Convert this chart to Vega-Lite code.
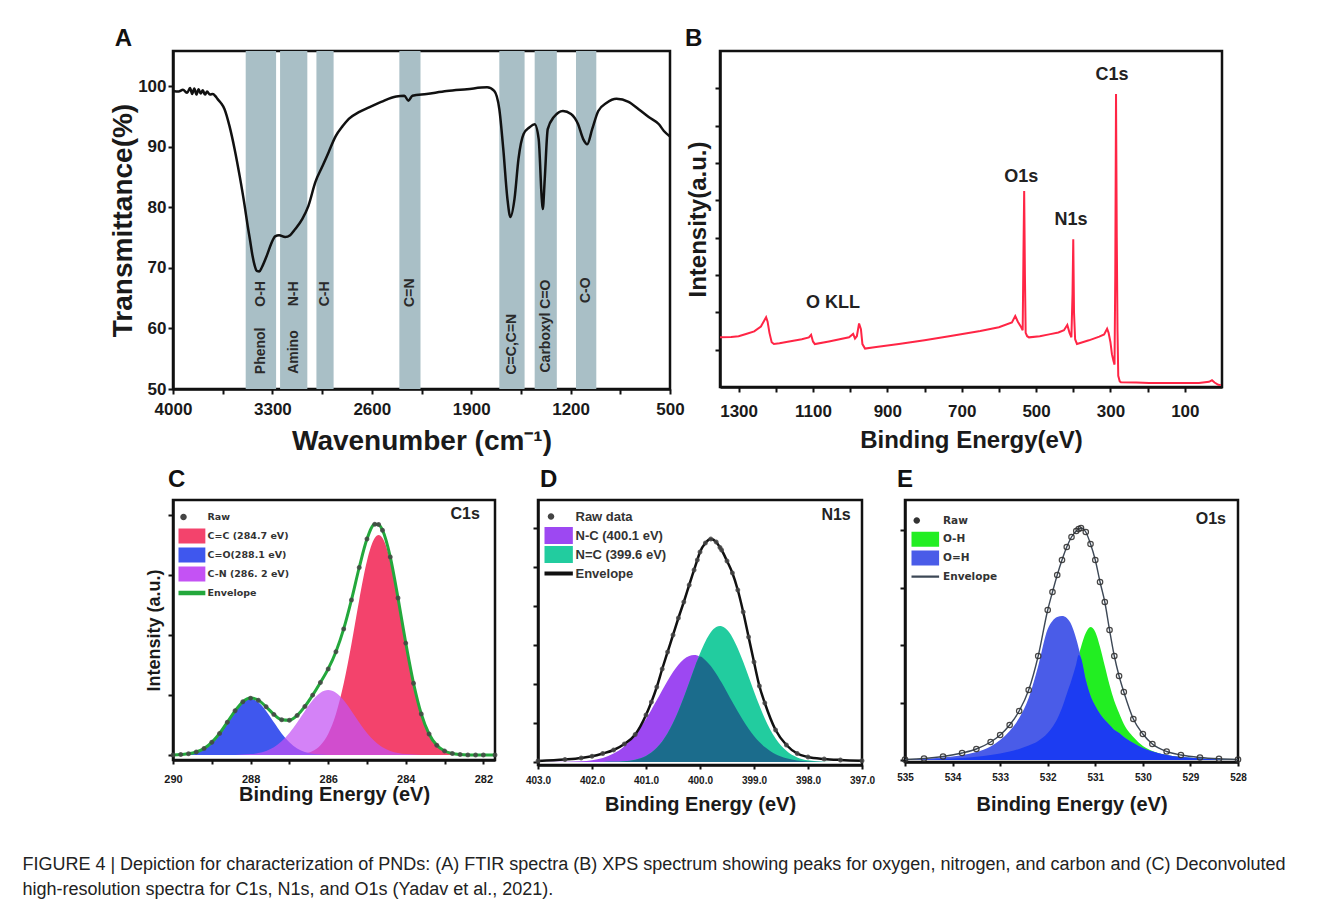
{
  "$schema": "https://vega.github.io/schema/vega-lite/v6.json",
  "background": "white",
  "padding": {"left": 22, "top": 25, "right": 5, "bottom": 5},
  "title": {
    "text": ["FIGURE 4 | Depiction for characterization of PNDs: (A) FTIR spectra (B) XPS spectrum showing peaks for oxygen, nitrogen, and carbon and (C) Deconvoluted", "high-resolution spectra for C1s, N1s, and O1s (Yadav et al., 2021)."],
    "orient": "bottom", "anchor": "start", "frame": "bounds", "dx": -86, "offset": 41,
    "font": "Liberation Sans", "fontSize": 18, "fontWeight": "normal", "lineHeight": 25, "color": "#222222"
  },
  "spacing": 9,
  "resolve": {"scale": {"color": "independent", "shape": "independent"}, "legend": {"color": "independent", "shape": "independent"}},
  "vconcat": [
    {
      "hconcat": [
        {
          "width": 497, "height": 338,
          "title": {"text": "A", "frame": "bounds", "anchor": "start", "dx": 5, "offset": 0},
          "layer": [
            {
              "data": {"values": [
                {"lo": 3274, "hi": 3488}, {"lo": 3054, "hi": 3246}, {"lo": 2869, "hi": 2990},
                {"lo": 2257, "hi": 2406}, {"lo": 1524, "hi": 1702}, {"lo": 1297, "hi": 1453}, {"lo": 1019, "hi": 1162}
              ]},
              "mark": {"type": "rect", "color": "#a9bfc6"},
              "encoding": {
                "x": {"field": "lo", "type": "quantitative", "scale": {"domain": [500, 4000], "reverse": true, "nice": false, "zero": false},
                  "axis": {"title": "Wavenumber (cm⁻¹)", "values": [4000, 3650, 3300, 2950, 2600, 2250, 1900, 1550, 1200, 850, 500], "format": "d",
                    "labelExpr": "(4000 - datum.value) % 700 == 0 ? datum.label : ''", "labelFontSize": 17, "titleFontSize": 28, "tickSize": 5, "labelPadding": 7, "titlePadding": 10}},
                "x2": {"field": "hi"},
                "y": {"datum": 50, "type": "quantitative", "scale": {"domain": [50, 105.8], "nice": false, "zero": false},
                  "axis": {"title": "Transmittance(%)", "values": [50, 60, 70, 80, 90, 100], "format": "d", "labelFontSize": 17, "titleFontSize": 28, "tickSize": 5, "labelPadding": 2, "titlePadding": 0}},
                "y2": {"datum": 105.8}
              }
            },
            {
              "data": {"values": [
                {"w": 4000, "t": 99.2}, {"w": 3960, "t": 99.1}, {"w": 3930, "t": 99.4}, {"w": 3900, "t": 98.9}, {"w": 3880, "t": 99.7},
                {"w": 3865, "t": 98.7}, {"w": 3850, "t": 99.6}, {"w": 3835, "t": 98.6}, {"w": 3820, "t": 99.5}, {"w": 3805, "t": 98.8},
                {"w": 3790, "t": 99.3}, {"w": 3775, "t": 98.6}, {"w": 3760, "t": 99.1}, {"w": 3740, "t": 98.6}, {"w": 3720, "t": 98.7},
                {"w": 3700, "t": 98.3}, {"w": 3687, "t": 97.9}, {"w": 3662, "t": 97.2}, {"w": 3637, "t": 96.2}, {"w": 3602, "t": 93.4},
                {"w": 3566, "t": 89.6}, {"w": 3530, "t": 85.1}, {"w": 3495, "t": 80.2}, {"w": 3474, "t": 76.9}, {"w": 3459, "t": 74.8},
                {"w": 3440, "t": 72.0}, {"w": 3425, "t": 70.4}, {"w": 3410, "t": 69.5}, {"w": 3392, "t": 69.4}, {"w": 3374, "t": 70.1},
                {"w": 3338, "t": 72.1}, {"w": 3310, "t": 73.9}, {"w": 3281, "t": 75.2}, {"w": 3253, "t": 75.4}, {"w": 3210, "t": 75.1},
                {"w": 3175, "t": 75.4}, {"w": 3139, "t": 76.4}, {"w": 3089, "t": 78.1}, {"w": 3047, "t": 80.2}, {"w": 2997, "t": 84.2},
                {"w": 2947, "t": 86.8}, {"w": 2904, "t": 89.1}, {"w": 2855, "t": 91.7}, {"w": 2805, "t": 93.4}, {"w": 2762, "t": 94.6},
                {"w": 2691, "t": 95.7}, {"w": 2620, "t": 96.5}, {"w": 2534, "t": 97.4}, {"w": 2428, "t": 98.3}, {"w": 2371, "t": 98.4},
                {"w": 2342, "t": 97.6}, {"w": 2314, "t": 98.4}, {"w": 2214, "t": 98.7}, {"w": 2072, "t": 99.2}, {"w": 1930, "t": 99.5},
                {"w": 1788, "t": 99.8}, {"w": 1738, "t": 99.2}, {"w": 1702, "t": 96.2}, {"w": 1674, "t": 89.6}, {"w": 1645, "t": 81.4},
                {"w": 1624, "t": 78.4}, {"w": 1595, "t": 81.4}, {"w": 1567, "t": 88.0}, {"w": 1531, "t": 92.1}, {"w": 1489, "t": 93.2},
                {"w": 1453, "t": 93.7}, {"w": 1425, "t": 91.3}, {"w": 1403, "t": 81.4}, {"w": 1396, "t": 79.7}, {"w": 1382, "t": 84.7},
                {"w": 1361, "t": 92.9}, {"w": 1318, "t": 94.9}, {"w": 1254, "t": 95.9}, {"w": 1197, "t": 95.4}, {"w": 1147, "t": 93.7},
                {"w": 1112, "t": 91.3}, {"w": 1083, "t": 90.4}, {"w": 1048, "t": 92.9}, {"w": 1005, "t": 95.9}, {"w": 948, "t": 97.2},
                {"w": 877, "t": 97.9}, {"w": 792, "t": 97.4}, {"w": 721, "t": 96.2}, {"w": 650, "t": 94.9}, {"w": 578, "t": 93.7},
                {"w": 543, "t": 92.6}, {"w": 500, "t": 91.7}
              ]},
              "mark": {"type": "line", "color": "#111111", "strokeWidth": 2.5, "interpolate": "monotone"},
              "encoding": {
                "x": {"field": "w", "type": "quantitative"},
                "y": {"field": "t", "type": "quantitative"}
              }
            },
            {
              "data": {"values": [
                {"w": 3381, "t": 65.7, "label": "O-H"}, {"w": 3381, "t": 56.3, "label": "Phenol"},
                {"w": 3150, "t": 65.7, "label": "N-H"}, {"w": 3150, "t": 56.1, "label": "Amino"},
                {"w": 2930, "t": 65.7, "label": "C-H"}, {"w": 2332, "t": 65.9, "label": "C=N"},
                {"w": 1613, "t": 57.4, "label": "C=C,C=N"}, {"w": 1375, "t": 60.4, "label": "Carboxyl C=O"},
                {"w": 1090, "t": 66.3, "label": "C-O"}
              ]},
              "mark": {"type": "text", "angle": 270, "font": "Liberation Sans", "fontWeight": "bold", "fontSize": 14, "color": "#2a2a2a", "baseline": "middle", "align": "center"},
              "encoding": {
                "x": {"field": "w", "type": "quantitative"},
                "y": {"field": "t", "type": "quantitative"},
                "text": {"field": "label"}
              }
            }
          ]
        },
        {
          "width": 502, "height": 336,
          "title": {"text": "B", "frame": "bounds", "anchor": "start", "dx": -1, "offset": 0},
          "layer": [
            {
              "data": {"values": [
                {"e": 1350, "i": 1.33}, {"e": 1320, "i": 1.34}, {"e": 1300, "i": 1.36}, {"e": 1280, "i": 1.42}, {"e": 1258, "i": 1.49},
                {"e": 1240, "i": 1.62}, {"e": 1232, "i": 1.76}, {"e": 1226, "i": 1.87}, {"e": 1222, "i": 1.75}, {"e": 1217, "i": 1.45},
                {"e": 1211, "i": 1.2}, {"e": 1205, "i": 1.15}, {"e": 1190, "i": 1.17}, {"e": 1164, "i": 1.22}, {"e": 1130, "i": 1.28},
                {"e": 1111, "i": 1.33}, {"e": 1105, "i": 1.4}, {"e": 1100, "i": 1.22}, {"e": 1095, "i": 1.15}, {"e": 1057, "i": 1.22},
                {"e": 1003, "i": 1.33}, {"e": 992, "i": 1.42}, {"e": 987, "i": 1.3}, {"e": 982, "i": 1.36}, {"e": 976, "i": 1.7},
                {"e": 971, "i": 1.55}, {"e": 967, "i": 1.15}, {"e": 960, "i": 1.03}, {"e": 930, "i": 1.07}, {"e": 869, "i": 1.15},
                {"e": 800, "i": 1.25}, {"e": 734, "i": 1.36}, {"e": 650, "i": 1.5}, {"e": 600, "i": 1.6}, {"e": 565, "i": 1.73},
                {"e": 556, "i": 1.9}, {"e": 549, "i": 1.75}, {"e": 540, "i": 1.6}, {"e": 536, "i": 1.52}, {"e": 534, "i": 3.5},
                {"e": 532, "i": 5.25}, {"e": 530, "i": 3.0}, {"e": 528, "i": 1.45}, {"e": 524, "i": 1.36}, {"e": 519, "i": 1.33},
                {"e": 490, "i": 1.36}, {"e": 465, "i": 1.41}, {"e": 440, "i": 1.46}, {"e": 425, "i": 1.52}, {"e": 416, "i": 1.66},
                {"e": 410, "i": 1.45}, {"e": 405, "i": 1.33}, {"e": 402, "i": 2.5}, {"e": 400, "i": 3.96}, {"e": 398, "i": 2.0},
                {"e": 395, "i": 1.28}, {"e": 390, "i": 1.15}, {"e": 375, "i": 1.2}, {"e": 358, "i": 1.25}, {"e": 330, "i": 1.35},
                {"e": 317, "i": 1.41}, {"e": 309, "i": 1.56}, {"e": 305, "i": 1.45}, {"e": 300, "i": 1.2}, {"e": 296, "i": 0.88},
                {"e": 292, "i": 0.7}, {"e": 289, "i": 0.6}, {"e": 287, "i": 3.0}, {"e": 285, "i": 7.85}, {"e": 283, "i": 4.0},
                {"e": 281, "i": 1.5}, {"e": 279, "i": 0.3}, {"e": 275, "i": 0.15}, {"e": 272, "i": 0.13}, {"e": 230, "i": 0.12},
                {"e": 196, "i": 0.11}, {"e": 120, "i": 0.11}, {"e": 62, "i": 0.11}, {"e": 35, "i": 0.14}, {"e": 27, "i": 0.18},
                {"e": 20, "i": 0.12}, {"e": 10, "i": 0.06}, {"e": 3, "i": 0.05}
              ]},
              "mark": {"type": "line", "color": "#ff2545", "strokeWidth": 2},
              "encoding": {
                "x": {"field": "e", "type": "quantitative", "scale": {"domain": [0, 1350], "reverse": true, "nice": false, "zero": false},
                  "axis": {"title": "Binding Energy(eV)", "values": [1300, 1200, 1100, 1000, 900, 800, 700, 600, 500, 400, 300, 200, 100], "format": "d",
                    "labelExpr": "datum.value % 200 == 100 ? datum.label : ''", "labelFontSize": 17, "titleFontSize": 24, "tickSize": 5, "labelPadding": 11, "titlePadding": 9}},
                "y": {"field": "i", "type": "quantitative", "scale": {"domain": [0, 9], "nice": false, "zero": false},
                  "axis": {"title": "Intensity(a.u.)", "values": [1, 2, 3, 4, 5, 6, 7, 8], "labels": false, "titleFontSize": 24, "tickSize": 5, "titlePadding": 4}}
              }
            },
            {
              "data": {"values": [
                {"e": 1046, "i": 2.25, "label": "O KLL"}, {"e": 540, "i": 5.63, "label": "O1s"},
                {"e": 406, "i": 4.47, "label": "N1s"}, {"e": 296, "i": 8.36, "label": "C1s"}
              ]},
              "mark": {"type": "text", "font": "Liberation Sans", "fontWeight": "bold", "fontSize": 18, "color": "#222222", "baseline": "middle", "align": "center"},
              "encoding": {
                "x": {"field": "e", "type": "quantitative"},
                "y": {"field": "i", "type": "quantitative"},
                "text": {"field": "label"}
              }
            }
          ]
        }
      ],
      "spacing": 50,
      "bounds": "flush",
      "resolve": {"scale": {"color": "independent", "shape": "independent"}, "legend": {"color": "independent", "shape": "independent"}}
    },
    {
      "hconcat": [
        {
          "width": 322, "height": 260,
          "title": {"text": "C", "frame": "group", "anchor": "start", "dx": -5, "offset": 8},
          "data": {"values": [
            {"e": 290.0, "co": 0.01, "cn": 0, "cc": 0, "env": 0.01, "raw": 0.01},
            {"e": 289.8, "co": 0.05, "cn": 0, "cc": 0, "env": 0.05, "raw": 0.05},
            {"e": 289.6, "co": 0.12, "cn": 0, "cc": 0, "env": 0.12, "raw": 0.12},
            {"e": 289.4, "co": 0.30, "cn": 0, "cc": 0, "env": 0.30, "raw": 0.30},
            {"e": 289.2, "co": 0.66, "cn": 0, "cc": 0, "env": 0.66, "raw": 0.66},
            {"e": 289.0, "co": 1.27, "cn": 0, "cc": 0, "env": 1.27, "raw": 1.27},
            {"e": 288.8, "co": 2.16, "cn": 0, "cc": 0, "env": 2.16, "raw": 2.16},
            {"e": 288.6, "co": 3.28, "cn": 0, "cc": 0, "env": 3.28, "raw": 3.28},
            {"e": 288.4, "co": 4.41, "cn": 0.01, "cc": 0, "env": 4.42, "raw": 4.42},
            {"e": 288.2, "co": 5.28, "cn": 0.04, "cc": 0, "env": 5.32, "raw": 5.32},
            {"e": 288.0, "co": 5.60, "cn": 0.09, "cc": 0, "env": 5.69, "raw": 5.69},
            {"e": 287.8, "co": 5.28, "cn": 0.20, "cc": 0, "env": 5.48, "raw": 5.48},
            {"e": 287.6, "co": 4.41, "cn": 0.41, "cc": 0, "env": 4.82, "raw": 4.82},
            {"e": 287.4, "co": 3.28, "cn": 0.78, "cc": 0, "env": 4.06, "raw": 4.06},
            {"e": 287.2, "co": 2.16, "cn": 1.37, "cc": 0, "env": 3.53, "raw": 3.53},
            {"e": 287.0, "co": 1.27, "cn": 2.20, "cc": 0.01, "env": 3.48, "raw": 3.48},
            {"e": 286.8, "co": 0.66, "cn": 3.25, "cc": 0.05, "env": 3.96, "raw": 3.96},
            {"e": 286.6, "co": 0.30, "cn": 4.41, "cc": 0.15, "env": 4.86, "raw": 4.86},
            {"e": 286.4, "co": 0.12, "cn": 5.47, "cc": 0.40, "env": 5.99, "raw": 5.99},
            {"e": 286.2, "co": 0.05, "cn": 6.23, "cc": 0.97, "env": 7.25, "raw": 7.25},
            {"e": 286.0, "co": 0.01, "cn": 6.50, "cc": 2.10, "env": 8.61, "raw": 8.61},
            {"e": 285.8, "co": 0, "cn": 6.23, "cc": 4.10, "env": 10.33, "raw": 10.33},
            {"e": 285.6, "co": 0, "cn": 5.47, "cc": 7.14, "env": 12.61, "raw": 12.61},
            {"e": 285.4, "co": 0, "cn": 4.41, "cc": 11.1, "env": 15.51, "raw": 15.51},
            {"e": 285.2, "co": 0, "cn": 3.25, "cc": 15.5, "env": 18.75, "raw": 18.75},
            {"e": 285.0, "co": 0, "cn": 2.20, "cc": 19.4, "env": 21.6, "raw": 21.6},
            {"e": 284.8, "co": 0, "cn": 1.37, "cc": 21.7, "env": 23.07, "raw": 23.07},
            {"e": 284.7, "co": 0, "cn": 1.05, "cc": 22.0, "env": 23.05, "raw": 23.05},
            {"e": 284.6, "co": 0, "cn": 0.78, "cc": 21.7, "env": 22.48, "raw": 22.48},
            {"e": 284.4, "co": 0, "cn": 0.41, "cc": 19.4, "env": 19.81, "raw": 19.81},
            {"e": 284.2, "co": 0, "cn": 0.20, "cc": 15.5, "env": 15.7, "raw": 15.7},
            {"e": 284.0, "co": 0, "cn": 0.09, "cc": 11.1, "env": 11.19, "raw": 11.19},
            {"e": 283.8, "co": 0, "cn": 0.04, "cc": 7.14, "env": 7.18, "raw": 7.18},
            {"e": 283.6, "co": 0, "cn": 0.01, "cc": 4.10, "env": 4.11, "raw": 4.11},
            {"e": 283.4, "co": 0, "cn": 0, "cc": 2.10, "env": 2.10, "raw": 2.10},
            {"e": 283.2, "co": 0, "cn": 0, "cc": 0.97, "env": 0.97, "raw": 0.97},
            {"e": 283.0, "co": 0, "cn": 0, "cc": 0.40, "env": 0.40, "raw": 0.40},
            {"e": 282.8, "co": 0, "cn": 0, "cc": 0.15, "env": 0.15, "raw": 0.15},
            {"e": 282.6, "co": 0, "cn": 0, "cc": 0.05, "env": 0.05, "raw": 0.05},
            {"e": 282.4, "co": 0, "cn": 0, "cc": 0.01, "env": 0.01, "raw": 0.01},
            {"e": 282.2, "co": 0, "cn": 0, "cc": 0, "env": 0, "raw": 0},
            {"e": 282.0, "co": 0, "cn": 0, "cc": 0, "env": 0, "raw": 0},
            {"e": 281.7, "co": 0, "cn": 0, "cc": 0, "env": 0, "raw": 0}
          ]},
          "layer": [
            {
              "transform": [{"fold": ["cc"], "as": ["s", "v"]}],
              "mark": {"type": "area", "interpolate": "monotone", "opacity": 1},
              "encoding": {
                "x": {"field": "e", "type": "quantitative", "scale": {"domain": [281.7, 290], "reverse": true, "nice": false, "zero": false},
                  "axis": {"title": "Binding Energy (eV)", "values": [290, 289, 288, 287, 286, 285, 284, 283, 282], "labelExpr": "datum.value % 2 == 0 ? datum.label : ''",
                    "labelFontSize": 11, "titleFontSize": 20, "tickSize": 4, "labelPadding": 9, "titlePadding": 0}},
                "y": {"field": "v", "type": "quantitative", "stack": null, "scale": {"domain": [-0.5, 25.5], "nice": false, "zero": false},
                  "axis": {"title": "Intensity (a.u.)", "values": [0, 3, 6, 9, 12, 15, 18, 21, 24], "labels": false, "titleFontSize": 18, "tickSize": 5, "titlePadding": 4}},
                "color": {"field": "s", "type": "nominal",
                  "scale": {"domain": ["raw", "cc", "co", "cn", "env"], "range": ["#444444", "#f3436c", "#3f57ee", "#c452f4", "#23a83c"]},
                  "legend": {"title": null, "orient": "none", "legendX": 5.5, "legendY": 9.5, "direction": "vertical", "symbolStrokeWidth": 0, "clipHeight": 15,
                    "labelOffset": 19, "rowPadding": 4, "labelFont": "DejaVu Sans", "labelFontSize": 9.5, "labelFontWeight": "bold", "labelColor": "#333333",
                    "labelExpr": "datum.value == 'raw' ? 'Raw' : datum.value == 'cc' ? 'C=C (284.7 eV)' : datum.value == 'co' ? 'C=O(288.1 eV)' : datum.value == 'cn' ? 'C-N (286. 2 eV)' : 'Envelope'"}
                }
              }
            },
            {
              "transform": [{"fold": ["co"], "as": ["s", "v"]}],
              "mark": {"type": "area", "interpolate": "monotone", "opacity": 1},
              "encoding": {
                "x": {"field": "e", "type": "quantitative"},
                "y": {"field": "v", "type": "quantitative", "stack": null},
                "color": {"field": "s", "type": "nominal"}
              }
            },
            {
              "transform": [{"fold": ["cn"], "as": ["s", "v"]}],
              "mark": {"type": "area", "interpolate": "monotone", "opacity": 0.72},
              "encoding": {
                "x": {"field": "e", "type": "quantitative"},
                "y": {"field": "v", "type": "quantitative", "stack": null},
                "color": {"field": "s", "type": "nominal"}
              }
            },
            {
              "transform": [{"fold": ["env"], "as": ["s", "v"]}],
              "mark": {"type": "line", "interpolate": "monotone", "strokeWidth": 3},
              "encoding": {
                "x": {"field": "e", "type": "quantitative"},
                "y": {"field": "v", "type": "quantitative"},
                "color": {"field": "s", "type": "nominal"}
              }
            },
            {
              "transform": [{"fold": ["raw"], "as": ["s", "v"]}],
              "mark": {"type": "point", "filled": true, "size": 56, "opacity": 0.85},
              "encoding": {
                "x": {"field": "e", "type": "quantitative"},
                "y": {"field": "v", "type": "quantitative"},
                "color": {"field": "s", "type": "nominal"},
                "shape": {"field": "s", "type": "nominal",
                  "scale": {"domain": ["raw", "cc", "co", "cn", "env"],
                    "range": ["M-0.65,0A0.65,0.65 0 1,0 0.65,0A0.65,0.65 0 1,0 -0.65,0Z", "M-4.37,-2.34H4.37V2.34H-4.37Z", "M-4.37,-2.34H4.37V2.34H-4.37Z", "M-4.37,-2.34H4.37V2.34H-4.37Z", "M-4.37,-0.47H4.37V0.47H-4.37Z"]}}
              }
            },
            {
              "data": {"values": [{"e": 282.47, "v": 24.1, "label": "C1s"}]},
              "mark": {"type": "text", "font": "Liberation Sans", "fontWeight": "bold", "fontSize": 16, "color": "#222222", "baseline": "middle", "align": "center"},
              "encoding": {
                "x": {"field": "e", "type": "quantitative"},
                "y": {"field": "v", "type": "quantitative"},
                "text": {"field": "label"}
              }
            }
          ]
        },
        {
          "width": 324, "height": 265,
          "title": {"text": "D", "frame": "group", "anchor": "start", "dx": 2, "offset": 8},
          "data": {"values": [
            {"e": 403.0, "nc": 0.01, "ne": 0, "ov": 0, "env": 0.10, "raw": 0.10},
            {"e": 402.5, "nc": 0.02, "ne": 0, "ov": 0, "env": 0.25, "raw": 0.25},
            {"e": 402.2, "nc": 0.07, "ne": 0, "ov": 0, "env": 0.40, "raw": 0.40},
            {"e": 402.0, "nc": 0.18, "ne": 0, "ov": 0, "env": 0.57, "raw": 0.57},
            {"e": 401.8, "nc": 0.40, "ne": 0.01, "ov": 0.01, "env": 0.85, "raw": 0.85},
            {"e": 401.6, "nc": 0.84, "ne": 0.02, "ov": 0.02, "env": 1.20, "raw": 1.20},
            {"e": 401.4, "nc": 1.58, "ne": 0.08, "ov": 0.08, "env": 1.80, "raw": 1.80},
            {"e": 401.2, "nc": 2.74, "ne": 0.23, "ov": 0.23, "env": 2.75, "raw": 2.75},
            {"e": 401.0, "nc": 4.31, "ne": 0.61, "ov": 0.61, "env": 4.70, "raw": 4.70},
            {"e": 400.9, "nc": 5.23, "ne": 0.95, "ov": 0.95, "env": 6.00, "raw": 6.00},
            {"e": 400.8, "nc": 6.19, "ne": 1.42, "ov": 1.42, "env": 7.50, "raw": 7.50},
            {"e": 400.7, "nc": 7.17, "ne": 2.05, "ov": 2.05, "env": 9.30, "raw": 9.30},
            {"e": 400.6, "nc": 8.12, "ne": 2.87, "ov": 2.87, "env": 11.0, "raw": 11.0},
            {"e": 400.5, "nc": 8.99, "ne": 3.89, "ov": 3.89, "env": 12.7, "raw": 12.7},
            {"e": 400.4, "nc": 9.72, "ne": 5.10, "ov": 5.10, "env": 14.4, "raw": 14.4},
            {"e": 400.3, "nc": 10.27, "ne": 6.47, "ov": 6.47, "env": 16.0, "raw": 16.0},
            {"e": 400.2, "nc": 10.60, "ne": 7.95, "ov": 7.95, "env": 17.7, "raw": 17.7},
            {"e": 400.11, "nc": 10.70, "ne": 9.29, "ov": 9.29, "env": 19.2, "raw": 19.2},
            {"e": 400.05, "nc": 10.66, "ne": 10.16, "ov": 10.16, "env": 20.2, "raw": 20.2},
            {"e": 400.0, "nc": 10.55, "ne": 10.84, "ov": 10.55, "env": 21.0, "raw": 21.0},
            {"e": 399.9, "nc": 10.17, "ne": 12.05, "ov": 10.17, "env": 21.9, "raw": 21.9},
            {"e": 399.8, "nc": 9.59, "ne": 12.97, "ov": 9.59, "env": 22.3, "raw": 22.3},
            {"e": 399.7, "nc": 8.82, "ne": 13.49, "ov": 8.82, "env": 22.0, "raw": 22.0},
            {"e": 399.63, "nc": 8.21, "ne": 13.60, "ov": 8.21, "env": 21.45, "raw": 21.45},
            {"e": 399.6, "nc": 7.94, "ne": 13.58, "ov": 7.94, "env": 21.2, "raw": 21.2},
            {"e": 399.5, "nc": 6.98, "ne": 13.22, "ov": 6.98, "env": 20.1, "raw": 20.1},
            {"e": 399.4, "nc": 6.00, "ne": 12.46, "ov": 6.00, "env": 18.9, "raw": 18.9},
            {"e": 399.3, "nc": 5.04, "ne": 11.36, "ov": 5.04, "env": 17.2, "raw": 17.2},
            {"e": 399.2, "nc": 4.14, "ne": 10.02, "ov": 4.14, "env": 15.0, "raw": 15.0},
            {"e": 399.1, "nc": 3.32, "ne": 8.55, "ov": 3.32, "env": 12.5, "raw": 12.5},
            {"e": 399.0, "nc": 2.60, "ne": 7.06, "ov": 2.60, "env": 10.0, "raw": 10.0},
            {"e": 398.9, "nc": 1.99, "ne": 5.64, "ov": 1.99, "env": 7.6, "raw": 7.6},
            {"e": 398.8, "nc": 1.49, "ne": 4.35, "ov": 1.49, "env": 5.9, "raw": 5.9},
            {"e": 398.6, "nc": 0.78, "ne": 2.35, "ov": 0.78, "env": 3.2, "raw": 3.2},
            {"e": 398.4, "nc": 0.37, "ne": 1.12, "ov": 0.37, "env": 1.7, "raw": 1.7},
            {"e": 398.2, "nc": 0.16, "ne": 0.46, "ov": 0.16, "env": 0.85, "raw": 0.85},
            {"e": 398.0, "nc": 0.06, "ne": 0.17, "ov": 0.06, "env": 0.50, "raw": 0.50},
            {"e": 397.7, "nc": 0.01, "ne": 0.03, "ov": 0.01, "env": 0.30, "raw": 0.30},
            {"e": 397.4, "nc": 0, "ne": 0, "ov": 0, "env": 0.20, "raw": 0.20},
            {"e": 397.0, "nc": 0, "ne": 0, "ov": 0, "env": 0.12, "raw": 0.12}
          ]},
          "layer": [
            {
              "transform": [{"fold": ["nc"], "as": ["s", "v"]}],
              "mark": {"type": "area", "interpolate": "monotone", "opacity": 1},
              "encoding": {
                "x": {"field": "e", "type": "quantitative", "scale": {"domain": [397, 403], "reverse": true, "nice": false, "zero": false},
                  "axis": {"title": "Binding Energy (eV)", "values": [403, 402.5, 402, 401.5, 401, 400.5, 400, 399.5, 399, 398.5, 398, 397.5, 397],
                    "labelExpr": "datum.value % 1 == 0 ? datum.label : ''", "labelFontSize": 10, "titleFontSize": 20, "tickSize": 4, "labelPadding": 6, "titlePadding": 9}},
                "y": {"field": "v", "type": "quantitative", "stack": null, "scale": {"domain": [-0.3, 26.2], "nice": false, "zero": false},
                  "axis": {"title": null, "values": [0, 3.9, 7.8, 11.7, 15.6, 19.5, 23.4], "labels": false, "tickSize": 5}},
                "color": {"field": "s", "type": "nominal",
                  "scale": {"domain": ["raw", "nc", "ne", "env"], "range": ["#444444", "#9d48f2", "#22cc9f", "#111111"]},
                  "legend": {"title": null, "orient": "none", "legendX": 6.5, "legendY": 8, "direction": "vertical", "symbolStrokeWidth": 0, "clipHeight": 17,
                    "labelOffset": 18, "rowPadding": 2, "labelFont": "Liberation Sans", "labelFontSize": 13, "labelFontWeight": "bold", "labelColor": "#333333",
                    "labelExpr": "datum.value == 'raw' ? 'Raw data' : datum.value == 'nc' ? 'N-C (400.1 eV)' : datum.value == 'ne' ? 'N=C (399.6 eV)' : 'Envelope'"}
                }
              }
            },
            {
              "transform": [{"fold": ["ne"], "as": ["s", "v"]}],
              "mark": {"type": "area", "interpolate": "monotone", "opacity": 1},
              "encoding": {
                "x": {"field": "e", "type": "quantitative"},
                "y": {"field": "v", "type": "quantitative", "stack": null},
                "color": {"field": "s", "type": "nominal"}
              }
            },
            {
              "transform": [{"fold": ["ov"], "as": ["s", "v"]}],
              "mark": {"type": "area", "interpolate": "monotone", "color": "#1b6c8c"},
              "encoding": {
                "x": {"field": "e", "type": "quantitative"},
                "y": {"field": "v", "type": "quantitative", "stack": null}
              }
            },
            {
              "transform": [{"fold": ["env"], "as": ["s", "v"]}],
              "mark": {"type": "line", "interpolate": "monotone", "strokeWidth": 2.5},
              "encoding": {
                "x": {"field": "e", "type": "quantitative"},
                "y": {"field": "v", "type": "quantitative"},
                "color": {"field": "s", "type": "nominal"}
              }
            },
            {
              "transform": [{"fold": ["raw"], "as": ["s", "v"]}],
              "mark": {"type": "point", "filled": true, "size": 56, "opacity": 0.85},
              "encoding": {
                "x": {"field": "e", "type": "quantitative"},
                "y": {"field": "v", "type": "quantitative"},
                "color": {"field": "s", "type": "nominal"},
                "shape": {"field": "s", "type": "nominal",
                  "scale": {"domain": ["raw", "nc", "ne", "env"],
                    "range": ["M-0.65,0A0.65,0.65 0 1,0 0.65,0A0.65,0.65 0 1,0 -0.65,0Z", "M-4.37,-2.66H4.37V2.66H-4.37Z", "M-4.37,-2.66H4.37V2.66H-4.37Z", "M-4.37,-0.39H4.37V0.39H-4.37Z"]}}
              }
            },
            {
              "data": {"values": [{"e": 397.48, "v": 24.7, "label": "N1s"}]},
              "mark": {"type": "text", "font": "Liberation Sans", "fontWeight": "bold", "fontSize": 16, "color": "#222222", "baseline": "middle", "align": "center"},
              "encoding": {
                "x": {"field": "e", "type": "quantitative"},
                "y": {"field": "v", "type": "quantitative"},
                "text": {"field": "label"}
              }
            }
          ]
        },
        {
          "width": 333, "height": 262,
          "title": {"text": "E", "frame": "group", "anchor": "start", "dx": -8, "offset": 8},
          "data": {"values": [
            {"e": 535.0, "oh": 0, "oe": 0.05, "ov": 0, "env": 0.05, "raw": 0.05},
            {"e": 534.6, "oh": 0.03, "oe": 0.10, "ov": 0.03, "env": 0.15, "raw": 0.15},
            {"e": 534.2, "oh": 0.10, "oe": 0.25, "ov": 0.10, "env": 0.35, "raw": 0.35},
            {"e": 533.8, "oh": 0.20, "oe": 0.48, "ov": 0.20, "env": 0.70, "raw": 0.70},
            {"e": 533.5, "oh": 0.32, "oe": 0.80, "ov": 0.32, "env": 1.10, "raw": 1.10},
            {"e": 533.2, "oh": 0.50, "oe": 1.35, "ov": 0.50, "env": 1.80, "raw": 1.80},
            {"e": 533.0, "oh": 0.65, "oe": 2.00, "ov": 0.65, "env": 2.50, "raw": 2.50},
            {"e": 532.8, "oh": 0.85, "oe": 2.90, "ov": 0.85, "env": 3.50, "raw": 3.50},
            {"e": 532.6, "oh": 1.10, "oe": 4.20, "ov": 1.10, "env": 4.90, "raw": 4.90},
            {"e": 532.4, "oh": 1.45, "oe": 6.20, "ov": 1.45, "env": 7.00, "raw": 7.00},
            {"e": 532.2, "oh": 1.90, "oe": 9.40, "ov": 1.90, "env": 10.4, "raw": 10.4},
            {"e": 532.0, "oh": 2.70, "oe": 13.1, "ov": 2.70, "env": 15.0, "raw": 15.0},
            {"e": 531.9, "oh": 3.30, "oe": 13.9, "ov": 3.30, "env": 16.8, "raw": 16.8},
            {"e": 531.8, "oh": 4.10, "oe": 14.3, "ov": 4.10, "env": 18.5, "raw": 18.5},
            {"e": 531.7, "oh": 5.20, "oe": 14.4, "ov": 5.20, "env": 20.0, "raw": 20.0},
            {"e": 531.6, "oh": 6.60, "oe": 14.2, "ov": 6.60, "env": 21.3, "raw": 21.3},
            {"e": 531.5, "oh": 8.00, "oe": 13.5, "ov": 8.00, "env": 22.3, "raw": 22.3},
            {"e": 531.4, "oh": 9.60, "oe": 12.1, "ov": 9.60, "env": 22.9, "raw": 22.9},
            {"e": 531.35, "oh": 10.5, "oe": 11.2, "ov": 10.5, "env": 23.1, "raw": 23.1},
            {"e": 531.3, "oh": 11.3, "oe": 10.2, "ov": 10.2, "env": 23.2, "raw": 23.2},
            {"e": 531.2, "oh": 12.7, "oe": 8.00, "ov": 8.00, "env": 22.8, "raw": 22.8},
            {"e": 531.1, "oh": 13.3, "oe": 6.40, "ov": 6.40, "env": 21.6, "raw": 21.6},
            {"e": 531.0, "oh": 12.8, "oe": 5.40, "ov": 5.40, "env": 20.0, "raw": 20.0},
            {"e": 530.9, "oh": 11.3, "oe": 4.60, "ov": 4.60, "env": 17.8, "raw": 17.8},
            {"e": 530.8, "oh": 9.40, "oe": 4.00, "ov": 4.00, "env": 15.8, "raw": 15.8},
            {"e": 530.7, "oh": 7.50, "oe": 3.50, "ov": 3.50, "env": 13.0, "raw": 13.0},
            {"e": 530.6, "oh": 5.90, "oe": 3.00, "ov": 3.00, "env": 10.4, "raw": 10.4},
            {"e": 530.5, "oh": 4.70, "oe": 2.70, "ov": 2.70, "env": 8.4, "raw": 8.4},
            {"e": 530.4, "oh": 3.60, "oe": 2.30, "ov": 2.30, "env": 6.8, "raw": 6.8},
            {"e": 530.2, "oh": 2.30, "oe": 1.70, "ov": 1.70, "env": 4.1, "raw": 4.1},
            {"e": 530.0, "oh": 1.40, "oe": 1.20, "ov": 1.20, "env": 2.6, "raw": 2.6},
            {"e": 529.8, "oh": 0.90, "oe": 0.85, "ov": 0.85, "env": 1.6, "raw": 1.6},
            {"e": 529.5, "oh": 0.50, "oe": 0.50, "ov": 0.50, "env": 0.85, "raw": 0.85},
            {"e": 529.2, "oh": 0.30, "oe": 0.30, "ov": 0.30, "env": 0.5, "raw": 0.5},
            {"e": 528.8, "oh": 0.15, "oe": 0.15, "ov": 0.15, "env": 0.25, "raw": 0.25},
            {"e": 528.4, "oh": 0.05, "oe": 0.05, "ov": 0.05, "env": 0.12, "raw": 0.12},
            {"e": 528.0, "oh": 0, "oe": 0, "ov": 0, "env": 0.05, "raw": 0.05}
          ]},
          "layer": [
            {
              "transform": [{"fold": ["oh"], "as": ["s", "v"]}],
              "mark": {"type": "area", "interpolate": "monotone", "opacity": 1},
              "encoding": {
                "x": {"field": "e", "type": "quantitative", "scale": {"domain": [528, 535], "reverse": true, "nice": false, "zero": false},
                  "axis": {"title": "Binding Energy (eV)", "values": [535, 534.5, 534, 533.5, 533, 532.5, 532, 531.5, 531, 530.5, 530, 529.5, 529, 528.5, 528],
                    "labelExpr": "datum.value % 1 == 0 ? datum.label : ''", "labelFontSize": 10, "titleFontSize": 20, "tickSize": 4, "labelPadding": 6, "titlePadding": 12}},
                "y": {"field": "v", "type": "quantitative", "stack": null, "scale": {"domain": [-0.2, 26], "nice": false, "zero": false},
                  "axis": {"title": null, "values": [0, 2.87, 5.74, 8.61, 11.48, 14.35, 17.22, 20.09, 22.96, 25.83], "labels": false, "tickSize": 5}},
                "color": {"field": "s", "type": "nominal",
                  "scale": {"domain": ["raw", "oh", "oe", "env"], "range": ["#333333", "#22ee22", "#4a5ce8", "#3d4856"]},
                  "legend": {"title": null, "orient": "none", "legendX": 6.5, "legendY": 13, "direction": "vertical", "symbolStrokeWidth": 0, "clipHeight": 15,
                    "labelOffset": 21, "rowPadding": 3.7, "labelFont": "DejaVu Sans", "labelFontSize": 10.5, "labelFontWeight": "bold", "labelColor": "#333333",
                    "labelExpr": "datum.value == 'raw' ? 'Raw' : datum.value == 'oh' ? 'O-H' : datum.value == 'oe' ? 'O=H' : 'Envelope'"}
                }
              }
            },
            {
              "transform": [{"fold": ["oe"], "as": ["s", "v"]}],
              "mark": {"type": "area", "interpolate": "monotone", "opacity": 1},
              "encoding": {
                "x": {"field": "e", "type": "quantitative"},
                "y": {"field": "v", "type": "quantitative", "stack": null},
                "color": {"field": "s", "type": "nominal"}
              }
            },
            {
              "transform": [{"fold": ["ov"], "as": ["s", "v"]}],
              "mark": {"type": "area", "interpolate": "monotone", "color": "#1c3cf2"},
              "encoding": {
                "x": {"field": "e", "type": "quantitative"},
                "y": {"field": "v", "type": "quantitative", "stack": null}
              }
            },
            {
              "transform": [{"fold": ["env"], "as": ["s", "v"]}],
              "mark": {"type": "line", "interpolate": "monotone", "strokeWidth": 1.4},
              "encoding": {
                "x": {"field": "e", "type": "quantitative"},
                "y": {"field": "v", "type": "quantitative"},
                "color": {"field": "s", "type": "nominal"}
              }
            },
            {
              "transform": [{"fold": ["raw"], "as": ["s", "v"]}],
              "mark": {"type": "point", "filled": false, "size": 70, "strokeWidth": 1.2, "opacity": 0.9},
              "encoding": {
                "x": {"field": "e", "type": "quantitative"},
                "y": {"field": "v", "type": "quantitative"},
                "color": {"field": "s", "type": "nominal"},
                "shape": {"field": "s", "type": "nominal",
                  "scale": {"domain": ["raw", "oh", "oe", "env"],
                    "range": ["M-0.65,0A0.65,0.65 0 1,0 0.65,0A0.65,0.65 0 1,0 -0.65,0Z", "M-4.47,-2.1H4.47V2.1H-4.47Z", "M-4.47,-2.1H4.47V2.1H-4.47Z", "M-4.47,-0.21H4.47V0.21H-4.47Z"]}}
              }
            },
            {
              "data": {"values": [{"e": 528.57, "v": 24.1, "label": "O1s"}]},
              "mark": {"type": "text", "font": "Liberation Sans", "fontWeight": "bold", "fontSize": 16, "color": "#222222", "baseline": "middle", "align": "center"},
              "encoding": {
                "x": {"field": "e", "type": "quantitative"},
                "y": {"field": "v", "type": "quantitative"},
                "text": {"field": "label"}
              }
            }
          ]
        }
      ],
      "spacing": 43,
      "bounds": "flush",
      "resolve": {"scale": {"color": "independent", "shape": "independent"}, "legend": {"color": "independent", "shape": "independent"}}
    }
  ],
  "config": {
    "view": {"stroke": "#111111", "strokeWidth": 2.5},
    "font": "Liberation Sans",
    "axis": {"domainColor": "#111111", "domainWidth": 2.5, "tickColor": "#111111", "tickWidth": 2, "grid": false,
      "labelFont": "Liberation Sans", "labelFontWeight": "bold", "labelColor": "#1a1a1a",
      "titleFont": "Liberation Sans", "titleFontWeight": "bold", "titleColor": "#1a1a1a",
      "labelFlush": false, "labelOverlap": false},
    "title": {"font": "Liberation Sans", "fontWeight": "bold", "fontSize": 24, "anchor": "start", "color": "#111111"},
    "legend": {"direction": "vertical"}
  }
}
